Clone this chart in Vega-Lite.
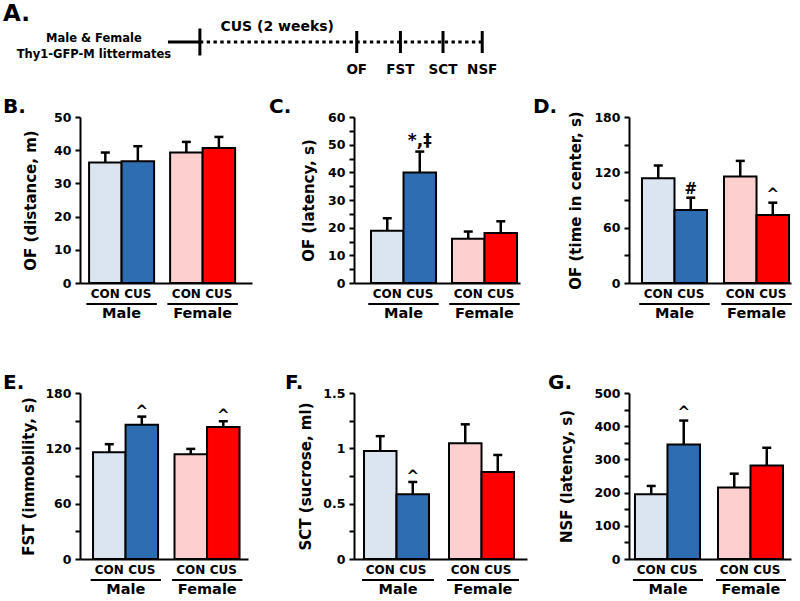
{
  "$schema": "https://vega.github.io/schema/vega-lite/v6.json",
  "background": "white",
  "autosize": {"type": "pad"},
  "padding": {"left": 3, "top": 3, "right": 5, "bottom": 5},
  "config": {
    "font": "DejaVu Sans",
    "view": {"stroke": null},
    "tick": {"opacity": 1},
    "title": {"anchor": "start", "frame": "group", "fontSize": 20, "fontWeight": "bold", "font": "DejaVu Sans", "color": "black", "offset": -6, "baseline": "alphabetic"},
    "axis": {"grid": false, "domainColor": "black", "domainWidth": 2, "tickColor": "black", "tickWidth": 2, "labelColor": "black", "labelFont": "DejaVu Sans", "labelFontWeight": "bold", "titleFont": "DejaVu Sans", "titleFontWeight": "bold", "titleColor": "black"},
    "axisY": {"tickSize": 5, "labelPadding": 4, "titlePadding": 8, "labelFontSize": 12.5, "titleFontSize": 15},
    "axisX": {"ticks": false, "labelPadding": 23, "labelFontSize": 14.5, "labelAngle": 0}
  },
  "datasets": {
    "segments": [
      {"phase": "housing", "start": -2.85, "end": 0},
      {"phase": "CUS", "start": 0, "end": 25.2}
    ],
    "events": [
      {"event": "start", "day": 0, "label": ""},
      {"event": "OF", "day": 14, "label": "OF"},
      {"event": "FST", "day": 17.9, "label": "FST"},
      {"event": "SCT", "day": 21.7, "label": "SCT"},
      {"event": "NSF", "day": 25.2, "label": "NSF"}
    ],
    "notes": [
      {"note": "cohort", "day": -9.46, "text": "Male & Female\nThy1-GFP-M littermates"},
      {"note": "period", "day": 6.9, "text": "CUS (2 weeks)"}
    ],
    "bars": [
      {"panel": "B", "sex": "Male", "treatment": "CON", "group": "Male CON", "mean": 36.3, "upper": 39.3, "sig": ""},
      {"panel": "B", "sex": "Male", "treatment": "CUS", "group": "Male CUS", "mean": 36.7, "upper": 41.2, "sig": ""},
      {"panel": "B", "sex": "Female", "treatment": "CON", "group": "Female CON", "mean": 39.3, "upper": 42.5, "sig": ""},
      {"panel": "B", "sex": "Female", "treatment": "CUS", "group": "Female CUS", "mean": 40.7, "upper": 44.0, "sig": ""},
      {"panel": "C", "sex": "Male", "treatment": "CON", "group": "Male CON", "mean": 18.9, "upper": 23.4, "sig": ""},
      {"panel": "C", "sex": "Male", "treatment": "CUS", "group": "Male CUS", "mean": 39.9, "upper": 47.5, "sig": "*,‡"},
      {"panel": "C", "sex": "Female", "treatment": "CON", "group": "Female CON", "mean": 16.0, "upper": 18.6, "sig": ""},
      {"panel": "C", "sex": "Female", "treatment": "CUS", "group": "Female CUS", "mean": 18.1, "upper": 22.3, "sig": ""},
      {"panel": "D", "sex": "Male", "treatment": "CON", "group": "Male CON", "mean": 113.6, "upper": 127.4, "sig": ""},
      {"panel": "D", "sex": "Male", "treatment": "CUS", "group": "Male CUS", "mean": 79.1, "upper": 92.5, "sig": "#"},
      {"panel": "D", "sex": "Female", "treatment": "CON", "group": "Female CON", "mean": 115.4, "upper": 132.4, "sig": ""},
      {"panel": "D", "sex": "Female", "treatment": "CUS", "group": "Female CUS", "mean": 73.7, "upper": 87.1, "sig": "^"},
      {"panel": "E", "sex": "Male", "treatment": "CON", "group": "Male CON", "mean": 115.8, "upper": 124.5, "sig": ""},
      {"panel": "E", "sex": "Male", "treatment": "CUS", "group": "Male CUS", "mean": 145.7, "upper": 154.4, "sig": "^"},
      {"panel": "E", "sex": "Female", "treatment": "CON", "group": "Female CON", "mean": 113.6, "upper": 119.4, "sig": ""},
      {"panel": "E", "sex": "Female", "treatment": "CUS", "group": "Female CUS", "mean": 143.2, "upper": 149.4, "sig": "^"},
      {"panel": "F", "sex": "Male", "treatment": "CON", "group": "Male CON", "mean": 0.976, "upper": 1.11, "sig": ""},
      {"panel": "F", "sex": "Male", "treatment": "CUS", "group": "Male CUS", "mean": 0.584, "upper": 0.696, "sig": "^"},
      {"panel": "F", "sex": "Female", "treatment": "CON", "group": "Female CON", "mean": 1.045, "upper": 1.217, "sig": ""},
      {"panel": "F", "sex": "Female", "treatment": "CUS", "group": "Female CUS", "mean": 0.786, "upper": 0.94, "sig": ""},
      {"panel": "G", "sex": "Male", "treatment": "CON", "group": "Male CON", "mean": 195, "upper": 220, "sig": ""},
      {"panel": "G", "sex": "Male", "treatment": "CUS", "group": "Male CUS", "mean": 345, "upper": 417, "sig": "^"},
      {"panel": "G", "sex": "Female", "treatment": "CON", "group": "Female CON", "mean": 215, "upper": 257, "sig": ""},
      {"panel": "G", "sex": "Female", "treatment": "CUS", "group": "Female CUS", "mean": 282, "upper": 335, "sig": ""}
    ]
  },
  "spacing": 19,
  "vconcat": [
    {
      "width": 456,
      "height": 20,
      "title": {"text": "A.", "dx": -77, "fontSize": 23, "offset": -6},
      "layer": [
        {
          "data": {"name": "segments"},
          "transform": [{"filter": "datum.phase === 'housing'"}],
          "mark": {"type": "rule", "strokeWidth": 3, "color": "black"},
          "encoding": {
            "x": {"field": "start", "type": "quantitative", "scale": {"domain": [-10.7, 30], "nice": false, "zero": false}, "axis": null},
            "x2": {"field": "end"}
          }
        },
        {
          "data": {"name": "segments"},
          "transform": [{"filter": "datum.phase === 'CUS'"}],
          "mark": {"type": "rule", "strokeWidth": 3, "color": "black", "strokeDash": [3.4, 3.4]},
          "encoding": {
            "x": {"field": "start", "type": "quantitative", "scale": {"domain": [-10.7, 30], "nice": false, "zero": false}, "axis": null},
            "x2": {"field": "end"}
          }
        },
        {
          "data": {"name": "events"},
          "transform": [{"filter": "datum.event === 'start'"}],
          "mark": {"type": "tick", "orient": "vertical", "size": 27, "thickness": 3, "color": "black", "opacity": 1},
          "encoding": {
            "x": {"field": "day", "type": "quantitative", "scale": {"domain": [-10.7, 30], "nice": false, "zero": false}, "axis": null}
          }
        },
        {
          "data": {"name": "events"},
          "transform": [{"filter": "datum.event !== 'start'"}],
          "mark": {"type": "tick", "orient": "vertical", "size": 22, "thickness": 3, "color": "black", "opacity": 1},
          "encoding": {
            "x": {"field": "day", "type": "quantitative", "scale": {"domain": [-10.7, 30], "nice": false, "zero": false}, "axis": null}
          }
        },
        {
          "data": {"name": "events"},
          "transform": [{"filter": "datum.event !== 'start'"}],
          "mark": {"type": "text", "fontSize": 13.5, "fontWeight": "bold", "color": "black", "baseline": "middle", "dy": 28},
          "encoding": {
            "x": {"field": "day", "type": "quantitative", "scale": {"domain": [-10.7, 30], "nice": false, "zero": false}, "axis": null},
            "text": {"field": "label"}
          }
        },
        {
          "data": {"name": "notes"},
          "transform": [{"filter": "datum.note === 'cohort'"}],
          "mark": {"type": "text", "fontSize": 11.5, "fontWeight": "bold", "color": "black", "baseline": "middle", "lineBreak": "\n", "lineHeight": 16, "dy": -3},
          "encoding": {
            "x": {"field": "day", "type": "quantitative", "scale": {"domain": [-10.7, 30], "nice": false, "zero": false}, "axis": null},
            "text": {"field": "text"}
          }
        },
        {
          "data": {"name": "notes"},
          "transform": [{"filter": "datum.note === 'period'"}],
          "mark": {"type": "text", "fontSize": 14, "fontWeight": "bold", "color": "black", "baseline": "middle", "dy": -15},
          "encoding": {
            "x": {"field": "day", "type": "quantitative", "scale": {"domain": [-10.7, 30], "nice": false, "zero": false}, "axis": null},
            "text": {"field": "text"}
          }
        }
      ]
    },
    {
      "columns": 3,
      "bounds": "flush",
      "align": "each",
      "spacing": {"row": 110, "column": 102},
      "concat": [
        {
          "title": {"text": "B.", "dx": -77},
          "width": 172, "height": 166,
          "data": {"name": "bars"},
          "transform": [{"filter": "datum.panel === 'B'"}],
          "encoding": {
            "x": {"field": "sex", "type": "nominal", "sort": ["Male", "Female"], "scale": {"paddingInner": 0.1975, "paddingOuter": 0.16, "align": 0.35}, "axis": {"title": null}},
            "y": {"field": "mean", "type": "quantitative", "scale": {"domain": [0, 50], "nice": false}, "axis": {"title": "OF (distance, m)", "titlePadding": 15, "values": [0, 10, 20, 30, 40, 50]}}
          },
          "layer": [
            {"mark": {"type": "bar", "stroke": "black", "strokeWidth": 2},
             "encoding": {
               "xOffset": {"field": "treatment", "type": "nominal", "sort": ["CON", "CUS"], "scale": {"paddingInner": 0, "paddingOuter": 0}},
               "fill": {"field": "group", "type": "nominal", "scale": {"domain": ["Male CON", "Male CUS", "Female CON", "Female CUS"], "range": ["#dbe5f1", "#2e6db2", "#fdcfcf", "#fe0000"]}, "legend": null}
             }},
            {"mark": {"type": "rule", "strokeWidth": 2.5, "color": "black"},
             "encoding": {
               "xOffset": {"field": "treatment", "type": "nominal", "sort": ["CON", "CUS"], "scale": {"paddingInner": 0, "paddingOuter": 0}},
               "y2": {"field": "upper"}
             }},
            {"mark": {"type": "tick", "orient": "horizontal", "size": 9, "thickness": 2.5, "color": "black"},
             "encoding": {
               "xOffset": {"field": "treatment", "type": "nominal", "sort": ["CON", "CUS"], "scale": {"paddingInner": 0, "paddingOuter": 0}},
               "y": {"field": "upper", "type": "quantitative", "title": "OF (distance, m)"}
             }},
            {"mark": {"type": "text", "fontSize": 15, "fontWeight": "bold", "color": "black", "baseline": "alphabetic", "dy": -2},
             "encoding": {
               "xOffset": {"field": "treatment", "type": "nominal", "sort": ["CON", "CUS"], "scale": {"paddingInner": 0, "paddingOuter": 0}},
               "y": {"field": "upper", "type": "quantitative", "title": "OF (distance, m)"},
               "text": {"field": "sig"}
             }},
            {"mark": {"type": "text", "fontSize": 12, "fontWeight": "bold", "color": "black", "baseline": "top", "dy": 6},
             "encoding": {
               "xOffset": {"field": "treatment", "type": "nominal", "sort": ["CON", "CUS"], "scale": {"paddingInner": 0, "paddingOuter": 0}},
               "y": {"datum": 0, "title": "OF (distance, m)"},
               "text": {"field": "treatment"}
             }},
            {"mark": {"type": "tick", "orient": "horizontal", "size": 70, "thickness": 2, "color": "black", "yOffset": 21},
             "encoding": {
               "y": {"datum": 0, "title": "OF (distance, m)"}
             }}
          ]
        },
        {
          "title": {"text": "C.", "dx": -85},
          "width": 166, "height": 166,
          "data": {"name": "bars"},
          "transform": [{"filter": "datum.panel === 'C'"}],
          "encoding": {
            "x": {"field": "sex", "type": "nominal", "sort": ["Male", "Female"], "scale": {"paddingInner": 0.1975, "paddingOuter": 0.1235, "align": 0.85}, "axis": {"title": null}},
            "y": {"field": "mean", "type": "quantitative", "scale": {"domain": [0, 60], "nice": false}, "axis": {"title": "OF (latency, s)", "titlePadding": 11, "values": [0, 5, 10, 15, 20, 25, 30, 35, 40, 45, 50, 55, 60], "labelExpr": "datum.value % 10 === 0 ? datum.label : ''"}}
          },
          "layer": [
            {"mark": {"type": "bar", "stroke": "black", "strokeWidth": 2},
             "encoding": {
               "xOffset": {"field": "treatment", "type": "nominal", "sort": ["CON", "CUS"], "scale": {"paddingInner": 0, "paddingOuter": 0}},
               "fill": {"field": "group", "type": "nominal", "scale": {"domain": ["Male CON", "Male CUS", "Female CON", "Female CUS"], "range": ["#dbe5f1", "#2e6db2", "#fdcfcf", "#fe0000"]}, "legend": null}
             }},
            {"mark": {"type": "rule", "strokeWidth": 2.5, "color": "black"},
             "encoding": {
               "xOffset": {"field": "treatment", "type": "nominal", "sort": ["CON", "CUS"], "scale": {"paddingInner": 0, "paddingOuter": 0}},
               "y2": {"field": "upper"}
             }},
            {"mark": {"type": "tick", "orient": "horizontal", "size": 9, "thickness": 2.5, "color": "black"},
             "encoding": {
               "xOffset": {"field": "treatment", "type": "nominal", "sort": ["CON", "CUS"], "scale": {"paddingInner": 0, "paddingOuter": 0}},
               "y": {"field": "upper", "type": "quantitative", "title": "OF (latency, s)"}
             }},
            {"mark": {"type": "text", "fontSize": 17, "fontWeight": "bold", "color": "black", "baseline": "alphabetic", "dy": -6},
             "encoding": {
               "xOffset": {"field": "treatment", "type": "nominal", "sort": ["CON", "CUS"], "scale": {"paddingInner": 0, "paddingOuter": 0}},
               "y": {"field": "upper", "type": "quantitative", "title": "OF (latency, s)"},
               "text": {"field": "sig"}
             }},
            {"mark": {"type": "text", "fontSize": 12, "fontWeight": "bold", "color": "black", "baseline": "top", "dy": 6},
             "encoding": {
               "xOffset": {"field": "treatment", "type": "nominal", "sort": ["CON", "CUS"], "scale": {"paddingInner": 0, "paddingOuter": 0}},
               "y": {"datum": 0, "title": "OF (latency, s)"},
               "text": {"field": "treatment"}
             }},
            {"mark": {"type": "tick", "orient": "horizontal", "size": 70, "thickness": 2, "color": "black", "yOffset": 21},
             "encoding": {
               "y": {"datum": 0, "title": "OF (latency, s)"}
             }}
          ]
        },
        {
          "title": {"text": "D.", "dx": -96},
          "width": 162, "height": 166,
          "data": {"name": "bars"},
          "transform": [{"filter": "datum.panel === 'D'"}],
          "encoding": {
            "x": {"field": "sex", "type": "nominal", "sort": ["Male", "Female"], "scale": {"paddingInner": 0.207, "paddingOuter": 0.091, "align": 0.87}, "axis": {"title": null}},
            "y": {"field": "mean", "type": "quantitative", "scale": {"domain": [0, 180], "nice": false}, "axis": {"title": "OF (time in center, s)", "titlePadding": 10, "values": [0, 30, 60, 90, 120, 150, 180], "labelExpr": "datum.value % 60 === 0 ? datum.label : ''"}}
          },
          "layer": [
            {"mark": {"type": "bar", "stroke": "black", "strokeWidth": 2},
             "encoding": {
               "xOffset": {"field": "treatment", "type": "nominal", "sort": ["CON", "CUS"], "scale": {"paddingInner": 0, "paddingOuter": 0}},
               "fill": {"field": "group", "type": "nominal", "scale": {"domain": ["Male CON", "Male CUS", "Female CON", "Female CUS"], "range": ["#dbe5f1", "#2e6db2", "#fdcfcf", "#fe0000"]}, "legend": null}
             }},
            {"mark": {"type": "rule", "strokeWidth": 2.5, "color": "black"},
             "encoding": {
               "xOffset": {"field": "treatment", "type": "nominal", "sort": ["CON", "CUS"], "scale": {"paddingInner": 0, "paddingOuter": 0}},
               "y2": {"field": "upper"}
             }},
            {"mark": {"type": "tick", "orient": "horizontal", "size": 9, "thickness": 2.5, "color": "black"},
             "encoding": {
               "xOffset": {"field": "treatment", "type": "nominal", "sort": ["CON", "CUS"], "scale": {"paddingInner": 0, "paddingOuter": 0}},
               "y": {"field": "upper", "type": "quantitative", "title": "OF (time in center, s)"}
             }},
            {"mark": {"type": "text", "fontSize": 15, "fontWeight": "bold", "color": "black", "baseline": "alphabetic", "dy": -4},
             "encoding": {
               "xOffset": {"field": "treatment", "type": "nominal", "sort": ["CON", "CUS"], "scale": {"paddingInner": 0, "paddingOuter": 0}},
               "y": {"field": "upper", "type": "quantitative", "title": "OF (time in center, s)"},
               "text": {"field": "sig"}
             }},
            {"mark": {"type": "text", "fontSize": 12, "fontWeight": "bold", "color": "black", "baseline": "top", "dy": 6},
             "encoding": {
               "xOffset": {"field": "treatment", "type": "nominal", "sort": ["CON", "CUS"], "scale": {"paddingInner": 0, "paddingOuter": 0}},
               "y": {"datum": 0, "title": "OF (time in center, s)"},
               "text": {"field": "treatment"}
             }},
            {"mark": {"type": "tick", "orient": "horizontal", "size": 70, "thickness": 2, "color": "black", "yOffset": 21},
             "encoding": {
               "y": {"datum": 0, "title": "OF (time in center, s)"}
             }}
          ]
        },
        {
          "title": {"text": "E.", "dx": -77},
          "width": 168, "height": 166,
          "data": {"name": "bars"},
          "transform": [{"filter": "datum.panel === 'E'"}],
          "encoding": {
            "x": {"field": "sex", "type": "nominal", "sort": ["Male", "Female"], "scale": {"paddingInner": 0.196, "paddingOuter": 0.129, "align": 0.62}, "axis": {"title": null}},
            "y": {"field": "mean", "type": "quantitative", "scale": {"domain": [0, 180], "nice": false}, "axis": {"title": "FST (immobility, s)", "titlePadding": 8, "values": [0, 30, 60, 90, 120, 150, 180], "labelExpr": "datum.value % 60 === 0 ? datum.label : ''"}}
          },
          "layer": [
            {"mark": {"type": "bar", "stroke": "black", "strokeWidth": 2},
             "encoding": {
               "xOffset": {"field": "treatment", "type": "nominal", "sort": ["CON", "CUS"], "scale": {"paddingInner": 0, "paddingOuter": 0}},
               "fill": {"field": "group", "type": "nominal", "scale": {"domain": ["Male CON", "Male CUS", "Female CON", "Female CUS"], "range": ["#dbe5f1", "#2e6db2", "#fdcfcf", "#fe0000"]}, "legend": null}
             }},
            {"mark": {"type": "rule", "strokeWidth": 2.5, "color": "black"},
             "encoding": {
               "xOffset": {"field": "treatment", "type": "nominal", "sort": ["CON", "CUS"], "scale": {"paddingInner": 0, "paddingOuter": 0}},
               "y2": {"field": "upper"}
             }},
            {"mark": {"type": "tick", "orient": "horizontal", "size": 9, "thickness": 2.5, "color": "black"},
             "encoding": {
               "xOffset": {"field": "treatment", "type": "nominal", "sort": ["CON", "CUS"], "scale": {"paddingInner": 0, "paddingOuter": 0}},
               "y": {"field": "upper", "type": "quantitative", "title": "FST (immobility, s)"}
             }},
            {"mark": {"type": "text", "fontSize": 15, "fontWeight": "bold", "color": "black", "baseline": "alphabetic", "dy": -1},
             "encoding": {
               "xOffset": {"field": "treatment", "type": "nominal", "sort": ["CON", "CUS"], "scale": {"paddingInner": 0, "paddingOuter": 0}},
               "y": {"field": "upper", "type": "quantitative", "title": "FST (immobility, s)"},
               "text": {"field": "sig"}
             }},
            {"mark": {"type": "text", "fontSize": 12, "fontWeight": "bold", "color": "black", "baseline": "top", "dy": 6},
             "encoding": {
               "xOffset": {"field": "treatment", "type": "nominal", "sort": ["CON", "CUS"], "scale": {"paddingInner": 0, "paddingOuter": 0}},
               "y": {"datum": 0, "title": "FST (immobility, s)"},
               "text": {"field": "treatment"}
             }},
            {"mark": {"type": "tick", "orient": "horizontal", "size": 70, "thickness": 2, "color": "black", "yOffset": 21},
             "encoding": {
               "y": {"datum": 0, "title": "FST (immobility, s)"}
             }}
          ]
        },
        {
          "title": {"text": "F.", "dx": -69},
          "width": 173, "height": 166,
          "data": {"name": "bars"},
          "transform": [{"filter": "datum.panel === 'F'"}],
          "encoding": {
            "x": {"field": "sex", "type": "nominal", "sort": ["Male", "Female"], "scale": {"paddingInner": 0.2, "paddingOuter": 0.1176, "align": 0.5}, "axis": {"title": null}},
            "y": {"field": "mean", "type": "quantitative", "scale": {"domain": [0, 1.5], "nice": false}, "axis": {"title": "SCT (sucrose, ml)", "titlePadding": 9, "values": [0, 0.25, 0.5, 0.75, 1, 1.25, 1.5], "labelExpr": "datum.value % 0.5 === 0 ? '' + datum.value : ''"}}
          },
          "layer": [
            {"mark": {"type": "bar", "stroke": "black", "strokeWidth": 2},
             "encoding": {
               "xOffset": {"field": "treatment", "type": "nominal", "sort": ["CON", "CUS"], "scale": {"paddingInner": 0, "paddingOuter": 0}},
               "fill": {"field": "group", "type": "nominal", "scale": {"domain": ["Male CON", "Male CUS", "Female CON", "Female CUS"], "range": ["#dbe5f1", "#2e6db2", "#fdcfcf", "#fe0000"]}, "legend": null}
             }},
            {"mark": {"type": "rule", "strokeWidth": 2.5, "color": "black"},
             "encoding": {
               "xOffset": {"field": "treatment", "type": "nominal", "sort": ["CON", "CUS"], "scale": {"paddingInner": 0, "paddingOuter": 0}},
               "y2": {"field": "upper"}
             }},
            {"mark": {"type": "tick", "orient": "horizontal", "size": 9, "thickness": 2.5, "color": "black"},
             "encoding": {
               "xOffset": {"field": "treatment", "type": "nominal", "sort": ["CON", "CUS"], "scale": {"paddingInner": 0, "paddingOuter": 0}},
               "y": {"field": "upper", "type": "quantitative", "title": "SCT (sucrose, ml)"}
             }},
            {"mark": {"type": "text", "fontSize": 15, "fontWeight": "bold", "color": "black", "baseline": "alphabetic", "dy": -1},
             "encoding": {
               "xOffset": {"field": "treatment", "type": "nominal", "sort": ["CON", "CUS"], "scale": {"paddingInner": 0, "paddingOuter": 0}},
               "y": {"field": "upper", "type": "quantitative", "title": "SCT (sucrose, ml)"},
               "text": {"field": "sig"}
             }},
            {"mark": {"type": "text", "fontSize": 12, "fontWeight": "bold", "color": "black", "baseline": "top", "dy": 6},
             "encoding": {
               "xOffset": {"field": "treatment", "type": "nominal", "sort": ["CON", "CUS"], "scale": {"paddingInner": 0, "paddingOuter": 0}},
               "y": {"datum": 0, "title": "SCT (sucrose, ml)"},
               "text": {"field": "treatment"}
             }},
            {"mark": {"type": "tick", "orient": "horizontal", "size": 72, "thickness": 2, "color": "black", "yOffset": 21},
             "encoding": {
               "y": {"datum": 0, "title": "SCT (sucrose, ml)"}
             }}
          ]
        },
        {
          "title": {"text": "G.", "dx": -81},
          "width": 162, "height": 166,
          "data": {"name": "bars"},
          "transform": [{"filter": "datum.panel === 'G'"}],
          "encoding": {
            "x": {"field": "sex", "type": "nominal", "sort": ["Male", "Female"], "scale": {"paddingInner": 0.205, "paddingOuter": 0.078, "align": 0.46}, "axis": {"title": null}},
            "y": {"field": "mean", "type": "quantitative", "scale": {"domain": [0, 500], "nice": false}, "axis": {"title": "NSF (latency, s)", "titlePadding": 19, "values": [0, 50, 100, 150, 200, 250, 300, 350, 400, 450, 500], "labelExpr": "datum.value % 100 === 0 ? datum.label : ''"}}
          },
          "layer": [
            {"mark": {"type": "bar", "stroke": "black", "strokeWidth": 2},
             "encoding": {
               "xOffset": {"field": "treatment", "type": "nominal", "sort": ["CON", "CUS"], "scale": {"paddingInner": 0, "paddingOuter": 0}},
               "fill": {"field": "group", "type": "nominal", "scale": {"domain": ["Male CON", "Male CUS", "Female CON", "Female CUS"], "range": ["#dbe5f1", "#2e6db2", "#fdcfcf", "#fe0000"]}, "legend": null}
             }},
            {"mark": {"type": "rule", "strokeWidth": 2.5, "color": "black"},
             "encoding": {
               "xOffset": {"field": "treatment", "type": "nominal", "sort": ["CON", "CUS"], "scale": {"paddingInner": 0, "paddingOuter": 0}},
               "y2": {"field": "upper"}
             }},
            {"mark": {"type": "tick", "orient": "horizontal", "size": 9, "thickness": 2.5, "color": "black"},
             "encoding": {
               "xOffset": {"field": "treatment", "type": "nominal", "sort": ["CON", "CUS"], "scale": {"paddingInner": 0, "paddingOuter": 0}},
               "y": {"field": "upper", "type": "quantitative", "title": "NSF (latency, s)"}
             }},
            {"mark": {"type": "text", "fontSize": 15, "fontWeight": "bold", "color": "black", "baseline": "alphabetic", "dy": -4},
             "encoding": {
               "xOffset": {"field": "treatment", "type": "nominal", "sort": ["CON", "CUS"], "scale": {"paddingInner": 0, "paddingOuter": 0}},
               "y": {"field": "upper", "type": "quantitative", "title": "NSF (latency, s)"},
               "text": {"field": "sig"}
             }},
            {"mark": {"type": "text", "fontSize": 12, "fontWeight": "bold", "color": "black", "baseline": "top", "dy": 6},
             "encoding": {
               "xOffset": {"field": "treatment", "type": "nominal", "sort": ["CON", "CUS"], "scale": {"paddingInner": 0, "paddingOuter": 0}},
               "y": {"datum": 0, "title": "NSF (latency, s)"},
               "text": {"field": "treatment"}
             }},
            {"mark": {"type": "tick", "orient": "horizontal", "size": 70, "thickness": 2, "color": "black", "yOffset": 21},
             "encoding": {
               "y": {"datum": 0, "title": "NSF (latency, s)"}
             }}
          ]
        }
      ]
    }
  ]
}
